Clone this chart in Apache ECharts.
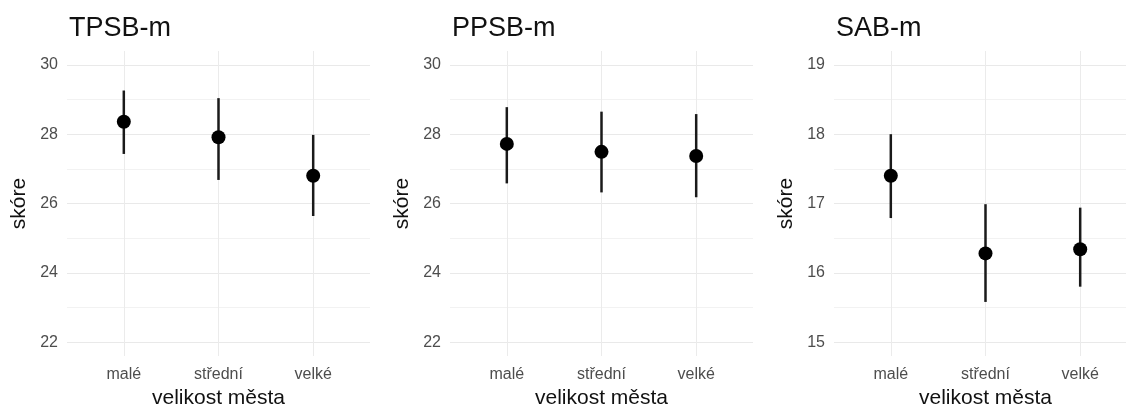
<!DOCTYPE html>
<html>
<head>
<meta charset="utf-8">
<script src="https://cdn.jsdelivr.net/npm/echarts@6/dist/echarts.min.js"></script>
<style>html,body{margin:0;padding:0;background:#fff;}#c{width:1126px;height:407px;}</style>
</head>
<body>
<div id="c"></div>
<script>
// ---- data ----
var categories = ['malé', 'střední', 'velké'];
var titles = ['TPSB-m', 'PPSB-m', 'SAB-m'];

var tpsbMean = [28.36, 27.91, 26.80];
var tpsbLow  = [27.43, 26.68, 25.64];
var tpsbHigh = [29.26, 29.04, 27.98];

var ppsbMean = [27.72, 27.49, 27.37];
var ppsbLow  = [26.58, 26.32, 26.18];
var ppsbHigh = [28.78, 28.65, 28.58];

var sabMean = [17.40, 16.28, 16.34];
var sabLow  = [16.79, 15.58, 15.80];
var sabHigh = [18.00, 16.99, 16.94];

var scoreTicks = [22, 24, 26, 28, 30];
var scoreMinor = [23, 25, 27, 29];
var sabTicks = [15, 16, 17, 18, 19];
var sabMinor = [15.5, 16.5, 17.5, 18.5];

var xLabel = 'velikost města';
var yLabel = 'skóre';

// ---- build ----
var panels = [
  {title: titles[0], mean: tpsbMean, low: tpsbLow, high: tpsbHigh, ticks: scoreTicks, minor: scoreMinor, left: 67},
  {title: titles[1], mean: ppsbMean, low: ppsbLow, high: ppsbHigh, ticks: scoreTicks, minor: scoreMinor, left: 450},
  {title: titles[2], mean: sabMean, low: sabLow, high: sabHigh, ticks: sabTicks, minor: sabMinor, left: 834}
];
var FONT = '"Liberation Sans", Arial, Helvetica, sans-serif';
var option = {
  backgroundColor: '#fff',
  animation: false,
  title: [], grid: [], xAxis: [], yAxis: [], series: []
};
panels.forEach(function (p, i) {
  var t0 = p.ticks[0], t1 = p.ticks[p.ticks.length - 1];
  var pad = (t1 - t0) * 0.05;
  var allTicks = p.ticks.concat(p.minor).sort(function (a, b) { return a - b; });
  var catPos = categories.map(function (c, k) { return k + 1; });
  option.title.push({
    text: p.title, left: p.left - 3, top: 10,
    textStyle: {fontFamily: FONT, fontSize: 27, fontWeight: 'normal', color: '#111'}
  });
  option.grid.push({left: p.left, top: 51, width: 303, height: 305,
                    containLabel: false, outerBoundsMode: 'none'});
  option.xAxis.push({
    type: 'value', gridIndex: i, min: 0.4, max: categories.length + 0.6,
    name: xLabel, nameLocation: 'middle', nameGap: 32,
    nameTextStyle: {fontFamily: FONT, fontSize: 21, color: '#111'},
    axisLine: {show: false},
    axisTick: {show: false, customValues: catPos},
    axisLabel: {
      customValues: catPos,
      formatter: function (v) { return categories[Math.round(v) - 1]; },
      fontFamily: FONT, fontSize: 16, color: '#4d4d4d', margin: 11
    },
    splitLine: {show: true, lineStyle: {color: '#ebebeb', width: 1}}
  });
  option.yAxis.push({
    type: 'value', gridIndex: i, min: t0 - pad, max: t1 + pad,
    name: yLabel, nameLocation: 'middle', nameGap: 37, nameRotate: 90,
    nameTextStyle: {fontFamily: FONT, fontSize: 21, color: '#111'},
    axisLine: {show: false},
    axisTick: {show: false, customValues: allTicks},
    axisLabel: {
      customValues: p.ticks,
      formatter: function (v) { return String(v); },
      fontFamily: FONT, fontSize: 16, color: '#4d4d4d', margin: 9
    },
    splitLine: {show: true, lineStyle: {color: ['#e9e9e9', '#f2f2f2'], width: 1}}
  });
  var errData = p.mean.map(function (m, k) { return [k + 1, p.low[k], p.high[k]]; });
  option.series.push({
    type: 'custom', xAxisIndex: i, yAxisIndex: i, data: errData,
    encode: {x: 0, y: [1, 2]},
    renderItem: function (params, api) {
      var a = api.coord([api.value(0), api.value(1)]);
      var b = api.coord([api.value(0), api.value(2)]);
      return {type: 'line', shape: {x1: a[0], y1: a[1], x2: b[0], y2: b[1]},
              style: {stroke: '#1a1a1a', lineWidth: 2.5}};
    },
    z: 2
  });
  option.series.push({
    type: 'scatter', xAxisIndex: i, yAxisIndex: i,
    data: p.mean.map(function (m, k) { return [k + 1, m]; }),
    symbol: 'circle', symbolSize: 14,
    itemStyle: {color: '#000', opacity: 1}, z: 3
  });
});
var chart = echarts.init(document.getElementById('c'), null, {renderer: 'canvas'});
chart.setOption(option);
</script>
</body>
</html>
